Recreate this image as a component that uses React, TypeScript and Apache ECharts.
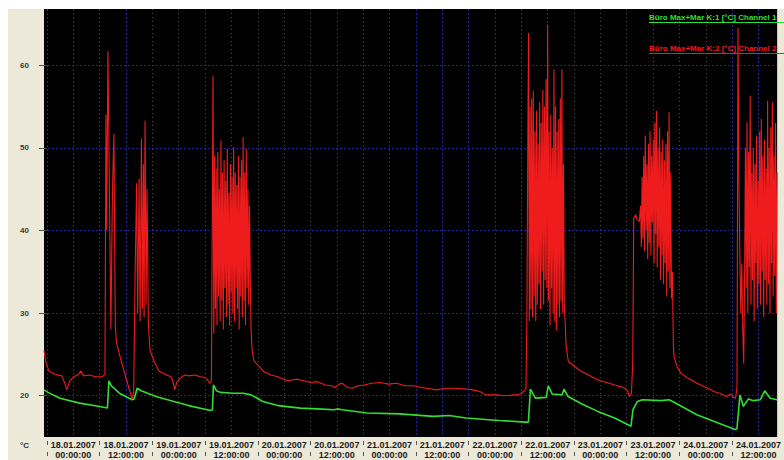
import React, { useEffect, useRef } from "react";
import * as echarts from "echarts";

// Time axis: hours since 18.01.2007 00:00:00
const X_MIN = -0.68;
const X_MAX = 166.25;
const Y_MIN = 15;
const Y_MAX = 66.8;

const seriesNames = [
  "Büro Max+Mar K:1 [°C] Channel 1",
  "Büro Max+Mar K:2 [°C] Channel 2",
];

// Channel 1 (green): [hour, °C]
const channel1: [number, number][] = [
  [-0.68, 20.7], [0.23, 20.4], [2.93, 19.7], [7.44, 19.1], [11.95, 18.7],
  [13.76, 18.5], [14.1, 21.8], [14.66, 21.2], [16.47, 20.3], [19.4, 19.5],
  [19.85, 19.6], [20.53, 20.9], [21.43, 20.6], [24.81, 19.9], [28.87, 19.3],
  [32.26, 18.8], [37.22, 18.2], [37.67, 18.3], [37.89, 21.3], [38.57, 20.6],
  [39.47, 20.4], [42.4, 20.3], [44.66, 20.3], [46.47, 20.1], [49.17, 19.3],
  [52.56, 18.8], [57.74, 18.5], [61.58, 18.4], [65.41, 18.3], [66.09, 18.4],
  [67.22, 18.3], [72.86, 17.9], [80.3, 17.8], [87.97, 17.5], [91.58, 17.6],
  [95.41, 17.3], [102.86, 17.0], [108.95, 16.8], [109.62, 16.8], [110.07, 20.8],
  [111.2, 19.7], [113.68, 19.8], [114.13, 21.2], [115.04, 20.2], [117.29, 20.1],
  [117.74, 20.8], [118.65, 19.9], [121.8, 19.0], [125.41, 18.1], [129.25, 17.3],
  [132.97, 16.3], [133.42, 18.3], [134.43, 19.3], [135.56, 19.5], [139.85, 19.4],
  [141.65, 19.5], [142.78, 19.2], [147.97, 17.7], [151.8, 16.9], [156.65, 15.9],
  [157.1, 16.0], [157.78, 20.1], [158.57, 18.7], [159.7, 19.6], [160.83, 19.4],
  [162.41, 19.5], [163.42, 20.6], [164.66, 19.7], [166.24, 19.5],
];

// Channel 2 (red): [hour, °C]
const channel2: [number, number][] = [
  [-0.68, 25.5], [-0.23, 24.0], [0.45, 23.0], [1.8, 22.6], [3.38, 22.4], [4.06, 21.5],
  [4.51, 20.7], [5.19, 21.8], [6.09, 22.3], [7.22, 22.6], [7.67, 23.0], [8.35, 22.4],
  [9.7, 22.5], [11.05, 22.3], [12.63, 22.3], [13.2, 22.6],
  [13.42, 54.0], [13.6, 40.0], [13.87, 61.7], [14.21, 45.0], [14.55, 28.0], [14.89, 44.0],
  [15.23, 51.7], [15.56, 28.5], [15.79, 26.5], [16.69, 24.6], [17.59, 22.9], [18.5, 21.2],
  [19.4, 19.6],
  [19.74, 20.5], [20.07, 35.0], [20.41, 45.7], [20.64, 30.0], [20.98, 46.3], [21.2, 29.0],
  [21.5, 51.1], [21.72, 30.5], [21.95, 48.0], [22.11, 29.5], [22.33, 53.3], [22.56, 31.0],
  [22.78, 45.0], [23.08, 28.7], [23.46, 25.5], [24.36, 24.2], [25.49, 23.0], [26.84, 22.6],
  [28.2, 22.3], [28.65, 21.8], [29.1, 20.7], [29.55, 21.6], [30.22, 22.1], [31.35, 22.5],
  [32.26, 22.4], [33.61, 22.5], [34.96, 22.3], [36.09, 22.2], [37.11, 21.5], [37.44, 21.8],
  [37.62, 40.0], [37.8, 58.7], [37.98, 27.5], [38.16, 49.0], [38.35, 30.5], [38.53, 47.5],
  [38.71, 28.5], [38.89, 49.5], [39.07, 32.0], [39.25, 45.0], [39.43, 29.0], [39.61, 50.9],
  [39.79, 31.5], [39.97, 47.0], [40.15, 28.0], [40.33, 48.5], [40.51, 33.0], [40.69, 46.0],
  [40.87, 29.5], [41.05, 49.9], [41.23, 31.0], [41.41, 44.5], [41.59, 28.5], [41.77, 48.0],
  [41.95, 32.5], [42.14, 46.5], [42.32, 30.0], [42.5, 50.1], [42.68, 29.0], [42.86, 47.0],
  [43.04, 33.0], [43.22, 45.5], [43.4, 30.5], [43.58, 49.0], [43.76, 28.0], [43.94, 46.5],
  [44.12, 32.0], [44.3, 48.5], [44.48, 29.5], [44.66, 51.3], [44.84, 31.5], [45.02, 47.0],
  [45.2, 28.5], [45.38, 49.9], [45.57, 33.0], [45.75, 45.0], [45.93, 31.0], [46.11, 43.0],
  [46.29, 34.0], [46.47, 28.0], [46.7, 25.5], [47.14, 24.2], [48.04, 23.7], [49.39, 22.9],
  [50.98, 22.5], [52.56, 22.3],
  [54.81, 21.8], [57.07, 22.0], [60.0, 21.6], [61.58, 21.7], [63.38, 21.3], [64.74, 21.2],
  [65.64, 21.0], [66.54, 21.4], [67.22, 21.5], [68.35, 21.0], [69.47, 20.9], [70.83, 21.2],
  [72.18, 21.3], [73.98, 21.5], [75.79, 21.6], [77.82, 21.4], [79.63, 21.5], [81.43, 21.2],
  [83.46, 21.2], [85.26, 21.0], [86.39, 20.9], [88.65, 20.7], [90.9, 20.9], [93.16, 20.9],
  [95.41, 20.8], [96.99, 20.7], [98.57, 20.5], [99.92, 20.1], [102.18, 20.1], [104.44, 20.0],
  [106.24, 20.1], [107.37, 20.1], [108.5, 20.5], [109.06, 20.8],
  [109.28, 30.0], [109.47, 50.0], [109.65, 63.9], [109.83, 29.0], [110.01, 55.0], [110.19, 30.5],
  [110.37, 56.0], [110.55, 29.5], [110.73, 56.9], [110.92, 32.0], [111.1, 52.0], [111.28, 29.0],
  [111.46, 54.5], [111.64, 31.0], [111.82, 50.5], [112.0, 33.5], [112.18, 55.5], [112.36, 30.5],
  [112.54, 53.0], [112.72, 35.0], [112.9, 57.0], [113.08, 31.0], [113.26, 55.0], [113.45, 34.0],
  [113.63, 58.3], [113.81, 33.0], [113.99, 64.9], [114.17, 31.5], [114.35, 52.0], [114.53, 28.5],
  [114.71, 54.0], [114.89, 33.0], [115.07, 50.0], [115.25, 30.0], [115.43, 59.5], [115.61, 29.0],
  [115.8, 55.0], [115.98, 27.9], [116.16, 52.0], [116.34, 31.0], [116.52, 53.5], [116.7, 29.5],
  [116.88, 56.0], [117.06, 31.5], [117.24, 59.5], [117.42, 30.0], [117.6, 48.0], [117.78, 31.0],
  [117.98, 29.0], [118.2, 26.0], [118.72, 24.1], [120.22, 23.5], [121.8, 22.9], [123.61, 22.4],
  [125.41, 21.9], [127.44, 21.6], [129.25, 21.3], [130.6, 21.1], [131.5, 20.9], [132.18, 20.6],
  [132.63, 19.9], [133.08, 20.3], [133.37, 24.0],
  [133.6, 41.5], [133.98, 41.9], [134.43, 41.3], [134.88, 41.1], [135.15, 43.0], [135.33, 38.0],
  [135.51, 46.5], [135.69, 39.0], [135.87, 49.0], [136.05, 37.5], [136.23, 51.5], [136.41, 40.0],
  [136.6, 48.0], [136.78, 36.5], [136.96, 50.5], [137.14, 38.5], [137.32, 52.0], [137.5, 37.0],
  [137.68, 49.0], [137.86, 41.0], [138.04, 51.0], [138.22, 36.0], [138.4, 53.0], [138.58, 39.5],
  [138.76, 54.5], [138.94, 35.5], [139.12, 50.0], [139.31, 38.0], [139.49, 52.5], [139.67, 34.0],
  [139.85, 49.5], [140.03, 37.0], [140.21, 51.0], [140.39, 33.5], [140.57, 48.5], [140.75, 36.0],
  [140.93, 50.5], [141.11, 32.0], [141.29, 52.0], [141.47, 35.0], [141.65, 54.3], [141.83, 33.0],
  [142.01, 47.0], [142.19, 31.8], [142.4, 35.0], [142.62, 26.0], [142.78, 24.7], [143.46, 23.5],
  [144.36, 22.7], [145.71, 22.2], [147.07, 21.8], [147.97, 21.5], [149.55, 21.1], [150.9, 20.8],
  [151.8, 20.5], [153.16, 20.3], [154.74, 19.9], [155.64, 20.2], [156.32, 19.8], [156.77, 19.7],
  [157.11, 21.0],
  [157.33, 64.5], [157.56, 45.0], [157.74, 38.0], [157.97, 30.0], [158.19, 36.0], [158.42, 28.0],
  [158.64, 23.9], [158.85, 35.0], [159.03, 50.0], [159.21, 33.0], [159.39, 53.1], [159.57, 30.0],
  [159.75, 49.5], [159.93, 35.5], [160.11, 56.3], [160.29, 31.0], [160.47, 47.0], [160.65, 34.0],
  [160.83, 50.0], [161.01, 29.0], [161.19, 48.0], [161.37, 36.0], [161.55, 51.5], [161.73, 30.5],
  [161.92, 46.0], [162.1, 33.5], [162.28, 52.0], [162.46, 31.0], [162.64, 53.5], [162.82, 35.0],
  [163.0, 49.0], [163.18, 29.5], [163.36, 51.0], [163.54, 34.0], [163.72, 47.5], [163.9, 31.0],
  [164.08, 55.7], [164.26, 33.5], [164.44, 50.0], [164.62, 30.0], [164.8, 52.5], [164.98, 36.0],
  [165.16, 55.5], [165.34, 32.0], [165.52, 49.0], [165.7, 34.5], [165.88, 53.0], [166.07, 30.0],
  [166.25, 47.0],
];

const yTickValues = [20, 30, 40, 50, 60];
const separatorHours = [0, 12, 24, 36, 48, 60, 72, 84, 96, 108, 120, 132, 144, 156];
const labelHours = [6, 18, 30, 42, 54, 66, 78, 90, 102, 114, 126, 138, 150, 162];
const xTickLabels = [
  "18.01.2007\n00:00:00", "18.01.2007\n12:00:00",
  "19.01.2007\n00:00:00", "19.01.2007\n12:00:00",
  "20.01.2007\n00:00:00", "20.01.2007\n12:00:00",
  "21.01.2007\n00:00:00", "21.01.2007\n12:00:00",
  "22.01.2007\n00:00:00", "22.01.2007\n12:00:00",
  "23.01.2007\n00:00:00", "23.01.2007\n12:00:00",
  "24.01.2007\n00:00:00", "24.01.2007\n12:00:00",
];
const blueGridHours = [0, 6, 12, 18, 72, 78, 84, 90, 96, 102, 108, 114, 156, 162];
const greyGridHours = [24, 30, 36, 42, 48, 54, 60, 66, 120, 126, 132, 138, 144, 150];

const GREEN = "#33dd33";
const RED = "#ee1c1c";
const FONT = "'Liberation Sans', Arial, sans-serif";

export default function App() {
  const ref = useRef<HTMLDivElement>(null);

  useEffect(() => {
    document.body.style.margin = "0";
    document.body.style.overflow = "hidden";
    if (!ref.current) return;
    const chart = echarts.init(ref.current, undefined, { renderer: "svg" });

    const baseX = {
      type: "value" as const,
      min: X_MIN,
      max: X_MAX,
      position: "bottom" as const,
      axisLine: { show: false },
      axisLabel: { show: false },
      splitLine: { show: false },
    };

    chart.setOption({
      animation: false,
      backgroundColor: "#ECE9D8",
      grid: {
        left: 36,
        right: 0,
        top: 0,
        bottom: 23,
        show: true,
        backgroundColor: "#000000",
        borderWidth: 0,
      },
      xAxis: [
        {
          ...baseX,
          axisTick: { show: false, customValues: blueGridHours },
          splitLine: { show: true, lineStyle: { color: "#1f1fa0", width: 1, type: [2, 2] } },
        },
        {
          ...baseX,
          axisTick: { show: false, customValues: greyGridHours },
          splitLine: { show: true, lineStyle: { color: "#4a4a4a", width: 1, type: [1, 3] } },
        },
        {
          ...baseX,
          axisTick: { show: false, customValues: labelHours },
          axisLabel: {
            show: true,
            customValues: labelHours,
            margin: 3,
            color: "#1a1a22",
            fontFamily: FONT,
            fontWeight: "bold",
            fontSize: 9,
            lineHeight: 10,
            formatter: (v: number) => {
              const i = labelHours.indexOf(Math.round(v));
              return i >= 0 ? xTickLabels[i] : "";
            },
          },
        },
        {
          ...baseX,
          offset: 4,
          axisTick: {
            show: true,
            length: 4,
            customValues: separatorHours,
            lineStyle: { color: "#555555", width: 1 },
          },
        },
        {
          ...baseX,
          offset: 15,
          axisTick: {
            show: true,
            length: 4,
            customValues: separatorHours,
            lineStyle: { color: "#555555", width: 1 },
          },
        },
      ],
      yAxis: {
        type: "value",
        min: Y_MIN,
        max: Y_MAX,
        axisLine: { show: false },
        axisTick: {
          show: true,
          length: 8,
          customValues: yTickValues,
          lineStyle: { color: "#555555", width: 1 },
        },
        axisLabel: {
          customValues: yTickValues,
          margin: 15,
          color: "#3a3a3a",
          fontFamily: FONT,
          fontWeight: "bold",
          fontSize: 8,
        },
        splitLine: { show: true, lineStyle: { color: "#1f1fa0", width: 1, type: [2, 2] } },
      },
      series: [
        {
          name: seriesNames[0],
          type: "line",
          xAxisIndex: 0,
          data: channel1,
          showSymbol: false,
          symbol: "none",
          lineStyle: { color: GREEN, width: 1.6 },
          z: 3,
        },
        {
          name: seriesNames[1],
          type: "line",
          xAxisIndex: 0,
          data: channel2,
          showSymbol: false,
          symbol: "none",
          lineStyle: { color: RED, width: 1.1 },
          z: 4,
        },
      ],
      graphic: [
        {
          type: "text",
          left: 12,
          top: 432,
          style: { text: "°C", fill: "#333333", font: `bold 8px ${FONT}` },
        },
        {
          type: "text",
          x: 641,
          y: 4,
          z: 10,
          style: { text: seriesNames[0], fill: GREEN, font: `bold 8px ${FONT}` },
        },
        {
          type: "line",
          z: 10,
          shape: { x1: 641, y1: 13.5, x2: 776, y2: 13.5 },
          style: { stroke: GREEN, lineWidth: 1 },
        },
        {
          type: "text",
          x: 641,
          y: 35,
          z: 10,
          style: { text: seriesNames[1], fill: RED, font: `bold 8px ${FONT}` },
        },
        {
          type: "line",
          z: 10,
          shape: { x1: 641, y1: 44.5, x2: 776, y2: 44.5 },
          style: { stroke: RED, lineWidth: 1 },
        },
      ],
    });

    return () => chart.dispose();
  }, []);

  return (
    <div style={{ position: "relative", width: 784, height: 460, background: "#ffffff", overflow: "hidden" }}>
      <div
        ref={ref}
        style={{ position: "absolute", left: 8, top: 9, width: 776, height: 451 }}
      />
    </div>
  );
}
